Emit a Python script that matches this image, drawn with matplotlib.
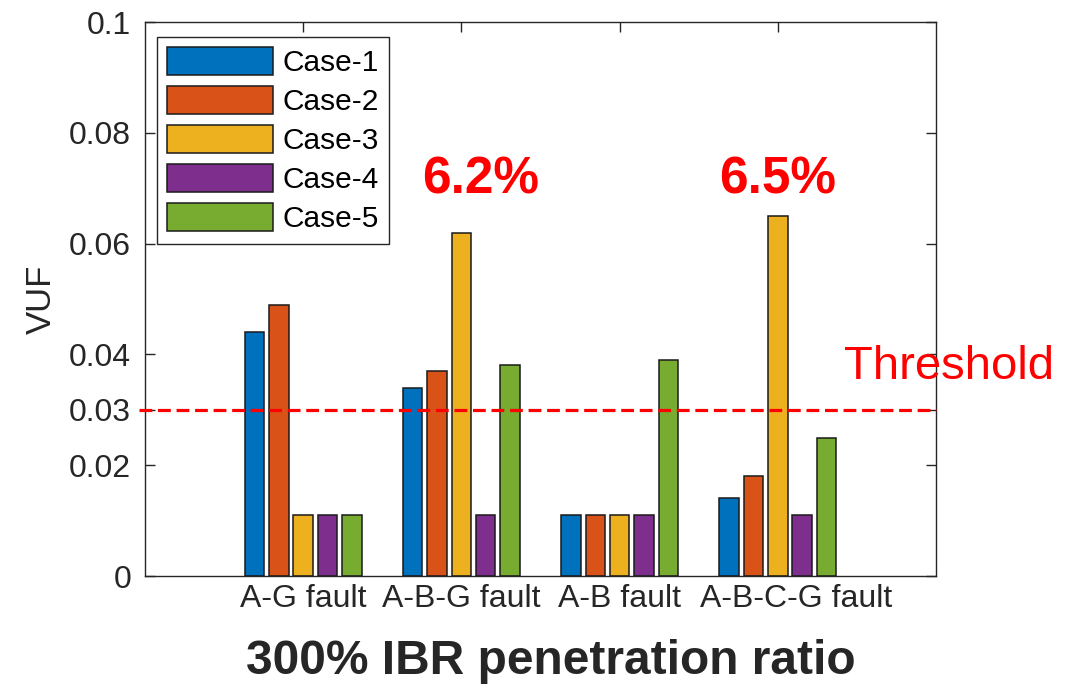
import matplotlib
matplotlib.use("Agg")
import matplotlib.pyplot as plt
import matplotlib.transforms as mtransforms
import numpy as np

plt.rcParams['font.family'] = ['Liberation Sans', 'DejaVu Sans']

# Fault types on the x axis
faults = ["A-G fault", "A-B-G fault", "A-B fault", "A-B-C-G fault"]
cases = ["Case-1", "Case-2", "Case-3", "Case-4", "Case-5"]

# Voltage unbalance factor per case, one value per fault type
case1 = [0.044, 0.034, 0.011, 0.014]
case2 = [0.049, 0.037, 0.011, 0.018]
case3 = [0.011, 0.062, 0.011, 0.065]
case4 = [0.011, 0.011, 0.011, 0.011]
case5 = [0.011, 0.038, 0.039, 0.025]
series = [case1, case2, case3, case4, case5]

threshold = 0.03
yticks = [0, 0.02, 0.03, 0.04, 0.06, 0.08, 0.1]
yticklabels = ["0", "0.02", "0.03", "0.04", "0.06", "0.08", "0.1"]

colors = ["#0072BD", "#D95319", "#EDB120", "#7E2F8E", "#77AC30"]
axis_gray = "#262626"

fig = plt.figure(figsize=(10.76, 6.9), dpi=100)
ax = fig.add_axes([145 / 1076, 114 / 690, 791 / 1076, 554 / 690])

x = np.arange(1, len(faults) + 1)
n = len(series)
group_w = n / (n + 1.5)
step = group_w / n
bar_w = 0.8 * step
for i, (vals, c, lab) in enumerate(zip(series, colors, cases)):
    offs = (i - (n - 1) / 2) * step
    ax.bar(x + offs, vals, width=bar_w, color=c, edgecolor="#1a1a1a",
           linewidth=1.1, label=lab, zorder=2)

ax.set_xlim(0, len(faults) + 1)
ax.set_ylim(0, 0.1)
ax.set_xticks(x)
ax.set_xticklabels(faults)
ax.set_yticks(yticks)
ax.set_yticklabels(yticklabels)

for s in ax.spines.values():
    s.set_color(axis_gray)
    s.set_linewidth(1.0)
ax.tick_params(direction="in", length=7, width=1.0, color=axis_gray,
               labelcolor=axis_gray, top=True, right=True)
ax.tick_params(axis="y", labelsize=23, pad=10)
ax.tick_params(axis="x", labelsize=23, pad=6)

# Nudge the last category label a little to the right
last = ax.get_xticklabels()[-1]
last.set_transform(last.get_transform() +
                   mtransforms.ScaledTranslation(13 / 72, 0, fig.dpi_scale_trans))

ax.set_ylabel("VUF", fontsize=25, color=axis_gray, labelpad=8)

# Threshold line, reaching slightly past the left spine
ax.axhline(threshold, xmin=-0.007, xmax=1.0, color="#FF0000", lw=2.3,
           ls=(0, (4.0, 1.8)), clip_on=False, zorder=3)
ax.text(5.08, threshold + 0.0078, "Threshold", color="#FF0000", fontsize=34,
        ha="center", va="center", clip_on=False)

# Peak values of Case-3
peak_idx = [1, 3]
peak_dx = [0.12, 0.0]
for k, dx in zip(peak_idx, peak_dx):
    v = case3[k]
    ax.text(x[k] + dx, 0.0715, f"{v * 100:.1f}%", color="#FF0000",
            fontsize=37, fontweight="bold", ha="center", va="center")

leg = ax.legend(loc="upper left", bbox_to_anchor=(12 / 791, 1 - 15 / 554),
                borderaxespad=0, fontsize=21.5, handlelength=3.55,
                handleheight=1.05, handletextpad=0.3, labelspacing=0.3,
                borderpad=0.35, fancybox=False, framealpha=1.0)
leg.get_frame().set_edgecolor(axis_gray)
leg.get_frame().set_linewidth(1.0)

fig.text(551 / 1076, 29 / 690, "300% IBR penetration ratio",
         fontsize=34.5, fontweight="bold", color=axis_gray,
         ha="center", va="center")

fig.savefig("out.png", dpi=100)
